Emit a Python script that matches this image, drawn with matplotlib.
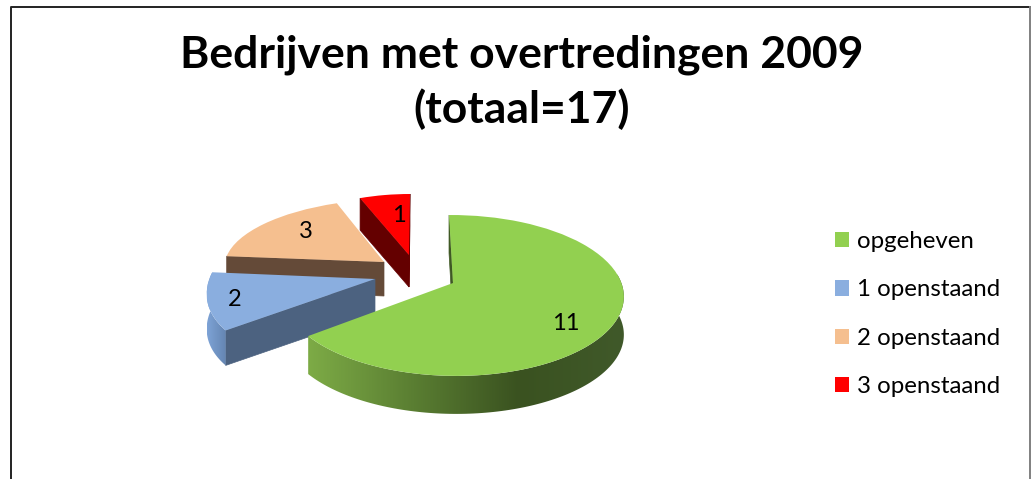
import numpy as np
import matplotlib
matplotlib.use('Agg')
import matplotlib.pyplot as plt
from matplotlib.colors import LinearSegmentedColormap
from matplotlib.patches import Patch, Polygon
from matplotlib.transforms import Transform

title = 'Bedrijven met overtredingen 2009\n(totaal=17)'
labels = ['opgeheven', '1 openstaand', '2 openstaand', '3 openstaand']
values = [11, 2, 3, 1]

# look of the slices, in picture pixels
colors = ['#92d050', '#8aaedf', '#f5bf8f', '#ff0000']
face_colors = ['#3f5824', '#4c6280', '#644a38', '#640000']
wall_colors = [['#7dab46', '#5a7e32', '#3a5220', '#40592a'],
               ['#7ea3d6', '#6384b0'],
               ['#644a38', '#644a38'],
               ['#640000', '#640000']]
apex = [(453, 283), (375, 279), (384, 262), (409, 255)]
# x from unit pie: a, b / y from unit pie: c, d / perspective
shape = [(168, -4.6, 1, 78.5, 0.155),
         (166, 28, 1, 84, 0),
         (159, 11, 0, 63, 0),
         (138, 1, 0, 61, 0)]
depth = [38, 35, 34, 32]
label_pos = [(566, 324), (235, 300), (306, 231), (399, 216)]


def project(x, y, i):
    a, b, c, d, p = shape[i]
    w = 1 + p * y
    x, y = x / w, y / w
    return apex[i][0] + a * x + b * y, apex[i][1] - c * x - d * y


class SliceProjection(Transform):
    input_dims = 2
    output_dims = 2

    def __init__(self, i):
        super().__init__()
        self.i = i

    def transform_non_affine(self, values):
        px, py = project(values[:, 0], values[:, 1], self.i)
        return np.column_stack([px, py])


fig = plt.figure(figsize=(10.31, 4.79), dpi=100)
ax = fig.add_axes([0, 0, 1, 1])
wedges, _ = ax.pie(values, colors=colors, startangle=90, counterclock=False,
                   radius=1, wedgeprops={'linewidth': 0})
ax.set_aspect('auto')
ax.set_xlim(0, 1031)
ax.set_ylim(479, 0)
ax.axis('off')

for i, wedge in enumerate(wedges):
    z = 10 - 2 * i
    d = depth[i]
    wedge.set_transform(SliceProjection(i) + ax.transData)
    wedge.set_zorder(z + 1)
    ox, oy = apex[i]
    mid = np.radians((wedge.theta1 + wedge.theta2) / 2)
    mx, my = project(np.cos(mid), np.sin(mid), i)

    # cut faces, only the ones that look down at us
    for angle in (wedge.theta1, wedge.theta2):
        t = np.radians(angle)
        ex, ey = project(np.cos(t), np.sin(t), i)
        if my - oy < (ey - oy) / (ex - ox) * (mx - ox):
            ax.fill([ox, ex, ex, ox], [oy, ey, ey + d, oy + d],
                    color=face_colors[i], lw=0.5, zorder=z)

    # outer wall on the front half, colour runs with x
    t = np.radians(np.linspace(wedge.theta1, wedge.theta2, 200))
    t = t[np.sin(t) < 0.1]
    if len(t) < 2:
        continue
    xs, ys = project(np.cos(t), np.sin(t), i)
    band = Polygon(np.column_stack([np.r_[xs, xs[::-1]], np.r_[ys, ys[::-1] + d]]),
                   transform=ax.transData, fc='none', lw=0)
    ax.add_patch(band)
    cmap = LinearSegmentedColormap.from_list('wall', wall_colors[i])
    ax.imshow(np.linspace(0, 1, 256).reshape(1, -1), cmap=cmap, aspect='auto',
              extent=(xs.min(), xs.max(), ys.max() + d, ys.min()),
              clip_path=band, zorder=z)

ax.set_aspect('auto')
ax.set_xlim(0, 1031)
ax.set_ylim(479, 0)

for i in range(len(values)):
    ax.text(label_pos[i][0], label_pos[i][1], str(values[i]), ha='center', va='center',
            fontsize=17, family='Lato', color='black', zorder=20)

ax.text(522, 82, title, ha='center', va='center', fontsize=32, fontweight='bold',
        family='Lato', color='black', linespacing=1.4, zorder=20)

handles = [Patch(color=c, lw=0) for c in colors]
ax.legend(handles, labels, loc='upper left', bbox_to_anchor=(835 / 1031, 1 - 231 / 479),
          frameon=False, prop={'family': 'Lato', 'size': 17.3}, handlelength=0.6,
          handleheight=0.6, handletextpad=0.32, labelspacing=1.14,
          borderpad=0, borderaxespad=0)

# chart border, bottom is cut off in the picture
ax.plot([11, 11, 1030], [479, 7, 7], color='#222222', lw=1.4, zorder=30, clip_on=False)
ax.plot([1030, 1030], [7, 479], color='#808080', lw=1.4, zorder=30, clip_on=False)

fig.savefig('out.png', dpi=100)
